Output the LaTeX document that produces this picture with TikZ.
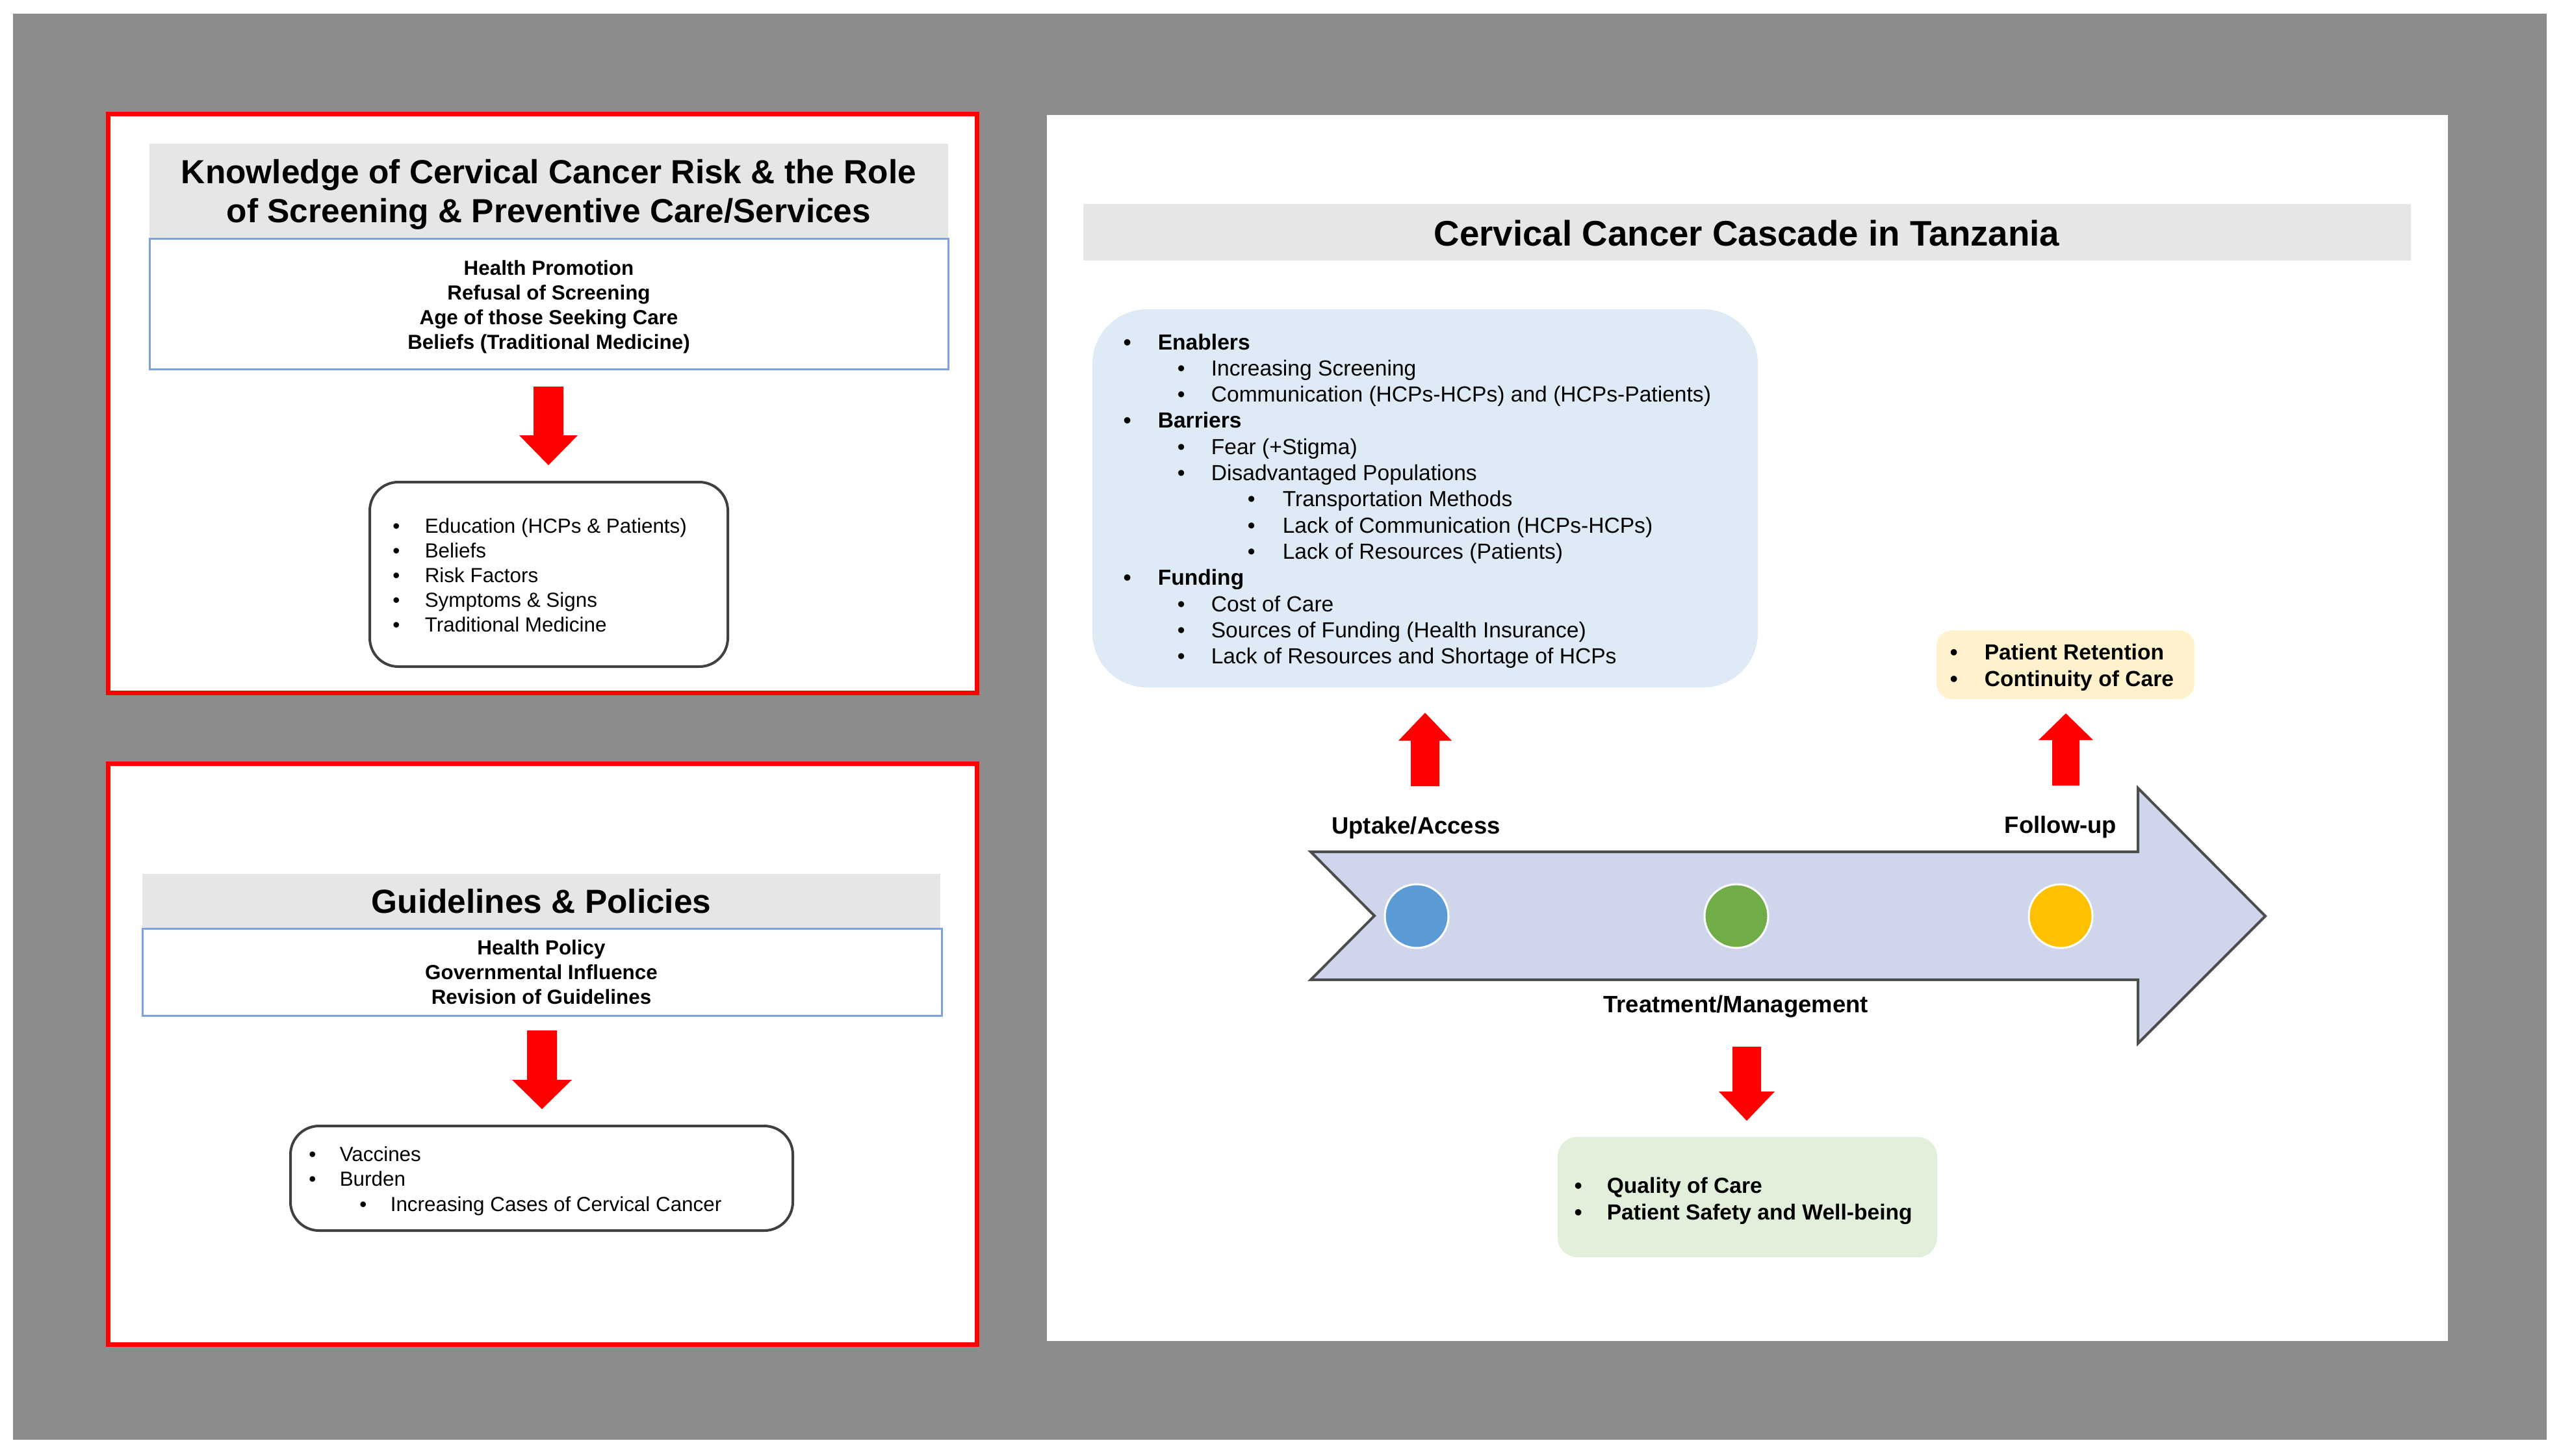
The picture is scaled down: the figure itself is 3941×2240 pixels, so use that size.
\documentclass[tikz,border=0pt]{standalone}
\usepackage{fontspec}
\setmainfont{Liberation Sans}
\usetikzlibrary{fit}
\definecolor{bggray}{HTML}{8C8C8C}
\definecolor{hdrgray}{HTML}{E6E6E6}
\definecolor{boxblue}{HTML}{7FA2DE}
\definecolor{lightblue}{HTML}{DEEAF6}
\definecolor{arrowfill}{HTML}{CFD5EA}
\definecolor{arrowline}{HTML}{4D4D4D}
\definecolor{cblue}{HTML}{5B9BD5}
\definecolor{cgreen}{HTML}{70AD47}
\definecolor{cyellow}{HTML}{FFC000}
\definecolor{lightyellow}{HTML}{FFF2CC}
\definecolor{lightgreen}{HTML}{E2EFDA}
\newcommand\fsA{\fontsize{7.85}{9}\selectfont}
\newcommand\fsB{\fontsize{8.4}{10}\selectfont}
\newcommand\fsC{\fontsize{9.12}{11}\selectfont}
\newcommand\fsD{\fontsize{12.85}{15}\selectfont}
\newcommand\fsE{\fontsize{13.67}{16}\selectfont}
\newcommand\bul[1]{\makebox[0pt][c]{\textbullet}\hspace{#1}}
\newcommand\myblockarrow[6]{\fill[red] (#1-#5,#2) -- (#1+#5,#2) -- (#1+#5,#3) -- (#1+#6,#3) -- (#1,#4) -- (#1-#6,#3) -- (#1-#5,#3) -- cycle;}
\tikzset{
  redpanel/.style={draw=red, line width=1.75pt, fill=white, inner sep=0pt},
  whitepanel/.style={fill=white, draw=none, inner sep=0pt},
  hdr/.style={fill=hdrgray, draw=none, inner sep=0pt},
  bluebox/.style={draw=boxblue, line width=0.75pt, fill=white, inner sep=0pt},
  listbox/.style={draw=black!75, line width=1pt, rounded corners=11pt, fill=white, inner sep=0pt},
  titletxt/.style={inner sep=0pt, anchor=base, font=\fsD\bfseries},
  ctrtxt/.style={inner sep=0pt, anchor=base, font=\fsA\bfseries},
  itemA/.style={inner sep=0pt, anchor=base west, font=\fsA},
  itemB/.style={inner sep=0pt, anchor=base west, font=\fsB},
  itemBb/.style={inner sep=0pt, anchor=base west, font=\fsB\bfseries},
  lbl/.style={inner sep=0pt, anchor=base, font=\fsC\bfseries},
  dot/.style={circle, draw=white, line width=0.75pt, minimum size=24.5pt, inner sep=0pt},
  bigarrow/.style={fill=arrowfill, draw=arrowline, line width=1pt, line join=miter},
}
\begin{document}
\begin{tikzpicture}[x=0.25pt, y=-0.25pt]
\useasboundingbox (0,0) rectangle (3941,2240);
\fill[white] (0,0) rectangle (3941,2240);
\fill[bggray] (20,21) rectangle (3919,2216);

% ---------- Panel A ----------
\node[redpanel, fit={(166,175) (1503,1066)}] (panelA) {};
\node[hdr, fit={(230,221) (1459,366)}] (hdrA) {};
\node[titletxt] (titleA1) at (844.5,282) {Knowledge of Cervical Cancer Risk \& the Role};
\node[titletxt] (titleA2) at (844.5,342) {of Screening \& Preventive Care/Services};
\node[bluebox, fit={(230,367) (1459,568)}] (topicA) {};
\node[ctrtxt] (tA1) at (844.5,423) {Health Promotion};
\node[ctrtxt] (tA2) at (844.5,461) {Refusal of Screening};
\node[ctrtxt] (tA3) at (844.5,499) {Age of those Seeking Care};
\node[ctrtxt] (tA4) at (844.5,537) {Beliefs (Traditional Medicine)};
\myblockarrow{844}{595}{670}{716}{23}{45}
\node[listbox, fit={(569,742) (1120,1026)}] (listA) {};
\node[itemA] (lA1) at (609,820) {\bul{11pt}Education (HCPs \& Patients)};
\node[itemA] (lA2) at (609,858) {\bul{11pt}Beliefs};
\node[itemA] (lA3) at (609,896) {\bul{11pt}Risk Factors};
\node[itemA] (lA4) at (609,934) {\bul{11pt}Symptoms \& Signs};
\node[itemA] (lA5) at (609,972) {\bul{11pt}Traditional Medicine};

% ---------- Panel B ----------
\node[redpanel, fit={(166,1175) (1503,2069)}] (panelB) {};
\node[hdr, fit={(219,1345) (1447,1428)}] (hdrB) {};
\node[titletxt] (titleB) at (833,1405) {Guidelines \& Policies};
\node[bluebox, fit={(219,1429) (1449,1563)}] (topicB) {};
\node[ctrtxt] (tB1) at (833,1469) {Health Policy};
\node[ctrtxt] (tB2) at (833,1507) {Governmental Influence};
\node[ctrtxt] (tB3) at (833,1545) {Revision of Guidelines};
\myblockarrow{834}{1586}{1662}{1707}{23}{46}
\node[listbox, fit={(447,1733) (1220,1894)}] (listB) {};
\node[itemA] (lB1) at (480,1787) {\bul{10.5pt}Vaccines};
\node[itemA] (lB2) at (480,1825) {\bul{10.5pt}Burden};
\node[itemA] (lB3) at (558,1864) {\bul{10.5pt}Increasing Cases of Cervical Cancer};

% ---------- Panel C ----------
\node[whitepanel, fit={(1611,177) (3767,2064)}] (panelC) {};
\node[hdr, fit={(1667,314) (3710,401)}] (hdrC) {};
\node[inner sep=0pt, anchor=base, font=\fsE\bfseries] (titleC) at (2688,378) {Cervical Cancer Cascade in Tanzania};

\node[fill=lightblue, draw=none, rounded corners=21pt, inner sep=0pt, fit={(1681,476) (2705,1058)}] (factors) {};
\node[itemBb] (f1)  at (1734,538) {\bul{11.75pt}Enablers};
\node[itemB]  (f2)  at (1817,578.3) {\bul{11.5pt}Increasing Screening};
\node[itemB]  (f3)  at (1817,618.6) {\bul{11.5pt}Communication (HCPs-HCPs) and (HCPs-Patients)};
\node[itemBb] (f4)  at (1734,658.9) {\bul{11.75pt}Barriers};
\node[itemB]  (f5)  at (1817,699.2) {\bul{11.5pt}Fear (+Stigma)};
\node[itemB]  (f6)  at (1817,739.5) {\bul{11.5pt}Disadvantaged Populations};
\node[itemB]  (f7)  at (1925,779.8) {\bul{12pt}Transportation Methods};
\node[itemB]  (f8)  at (1925,820.1) {\bul{12pt}Lack of Communication (HCPs-HCPs)};
\node[itemB]  (f9)  at (1925,860.4) {\bul{12pt}Lack of Resources (Patients)};
\node[itemBb] (f10) at (1734,900.7) {\bul{11.75pt}Funding};
\node[itemB]  (f11) at (1817,941) {\bul{11.5pt}Cost of Care};
\node[itemB]  (f12) at (1817,981.3) {\bul{11.5pt}Sources of Funding (Health Insurance)};
\node[itemB]  (f13) at (1817,1021.6) {\bul{11.5pt}Lack of Resources and Shortage of HCPs};

\node[fill=lightyellow, draw=none, rounded corners=6pt, inner sep=0pt, fit={(2980,970) (3377,1076)}] (retain) {};
\node[itemBb] (r1) at (3006,1015) {\bul{11.75pt}Patient Retention};
\node[itemBb] (r2) at (3006,1056) {\bul{11.75pt}Continuity of Care};

\myblockarrow{2193}{1210}{1140}{1097}{22}{41}
\myblockarrow{3179}{1209}{1139}{1098}{21}{42}

\node[lbl] (uptake) at (2179,1283) {Uptake/Access};
\node[lbl] (follow) at (3171,1282) {Follow-up};

\draw[bigarrow] (2017,1311) -- (3290,1311) -- (3290,1213) -- (3486,1410) -- (3290,1606) -- (3290,1508) -- (2017,1508) -- (2115,1409.5) -- cycle;
\node[dot, fill=cblue]   (dotA) at (2180,1410) {};
\node[dot, fill=cgreen]  (dotB) at (2672,1410) {};
\node[dot, fill=cyellow] (dotC) at (3171,1410) {};

\node[lbl] (treat) at (2671,1558) {Treatment/Management};
\myblockarrow{2688}{1611}{1680}{1725}{22}{43}

\node[fill=lightgreen, draw=none, rounded corners=7.5pt, inner sep=0pt, fit={(2397,1750) (2981,1935)}] (quality) {};
\node[itemBb] (q1) at (2428,1836) {\bul{11pt}Quality of Care};
\node[itemBb] (q2) at (2428,1877) {\bul{11pt}Patient Safety and Well-being};
\end{tikzpicture}
\end{document}
